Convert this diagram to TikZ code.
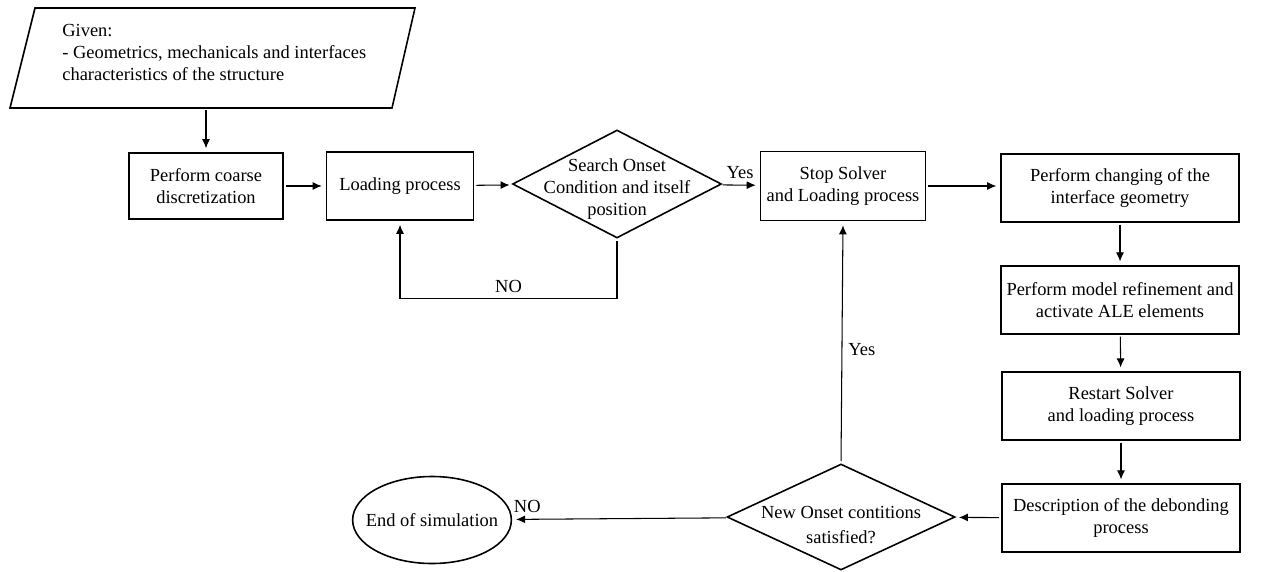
\documentclass[tikz,border=0pt]{standalone}
\usepackage{fontspec}
\setmainfont{Liberation Serif}
\usetikzlibrary{arrows.meta,shapes.geometric}

\tikzset{
  every node/.style={font=\fontsize{10.5}{12.7}\selectfont},
  proc/.style={draw, line width=0.9pt, align=center, inner sep=0pt},
  stepcol/.style={proc, minimum width=47.6mm, minimum height=13.5mm},
  decision/.style={diamond, draw, line width=0.9pt, inner sep=0pt},
  flow/.style={->, line width=0.6pt, shorten >=0.8mm, shorten <=0.4mm},
}

\begin{document}
\begin{tikzpicture}[x=0.2mm, y=-0.2mm, >={Latex[length=1.8mm,width=1.6mm]}]
  \useasboundingbox (0,0) rectangle (1265,571);

  % input data
  \draw[line width=0.9pt] (35,8) -- (415,8) -- (392,108) -- (10,108) -- cycle;
  \coordinate (given-s) at (207,108);
  \node[anchor=north west, align=flush left, inner sep=0pt,
        font=\fontsize{10.5}{12.4}\selectfont] (given) at (62,24)
    {Given:\\- Geometrics, mechanicals and interfaces\\characteristics of the structure};

  % first row
  \node[proc, minimum width=30.8mm, minimum height=13.2mm] (coarse) at (206,186) {Perform coarse\\discretization};
  \node[proc, minimum width=29.4mm, minimum height=13.6mm] (load) at (400,186) {Loading process};
  \node[decision, minimum width=41.8mm, minimum height=21.6mm] (onset) at (617,184) {};
  \node[align=center] (onset-txt) at (617,189) {Search Onset\\Condition and itself\\position};
  \node[proc, minimum width=33mm, minimum height=13.8mm] (stop) at (843,186) {Stop Solver\\and Loading process};
  \node[stepcol] (change) at (1120,188) {Perform changing of the\\interface geometry};

  % right column
  \node[stepcol] (refine) at (1120,300) {Perform model refinement and\\activate ALE elements};
  \node[stepcol] (restart) at (1121,406) {Restart Solver\\and loading process};
  \node[stepcol] (debond) at (1121,518) {Description of the debonding\\process};

  % bottom row
  \node[decision, minimum width=45.6mm, minimum height=21.2mm] (newonset) at (841,517) {};
  \node[align=center, font=\fontsize{10.5}{14}\selectfont] (newonset-txt) at (841,525) {New Onset contitions\\satisfied?};
  \node[ellipse, draw, line width=0.9pt, inner sep=-2mm, minimum width=25mm, minimum height=17.4mm] (endsim) at (432,520) {End of simulation};

  % connectors
  \draw[flow] (coarse.north |- given-s) -- (coarse.north);
  \draw[flow] (coarse.east |- load) -- (load);
  \draw[flow] (load) -- (onset);
  \draw[flow] (onset.south) -- ++(0,60) -| (load.south) node[pos=0.25, above] {NO};
  \draw[flow] (onset) -- (stop) node[midway, above] {Yes};
  \draw[flow] (stop.east) -- (stop.east -| change.west);
  \draw[flow] (change) -- (refine);
  \draw[flow] (refine) -- (restart);
  \draw[flow] (restart) -- (debond);
  \draw[flow] (debond) -- (newonset);
  \draw[flow] (newonset.north) -- (stop.south) node[pos=0.47, right] {Yes};
  \draw[flow] (newonset) -- (endsim) node[pos=0.93, above] {NO};
\end{tikzpicture}
\end{document}
